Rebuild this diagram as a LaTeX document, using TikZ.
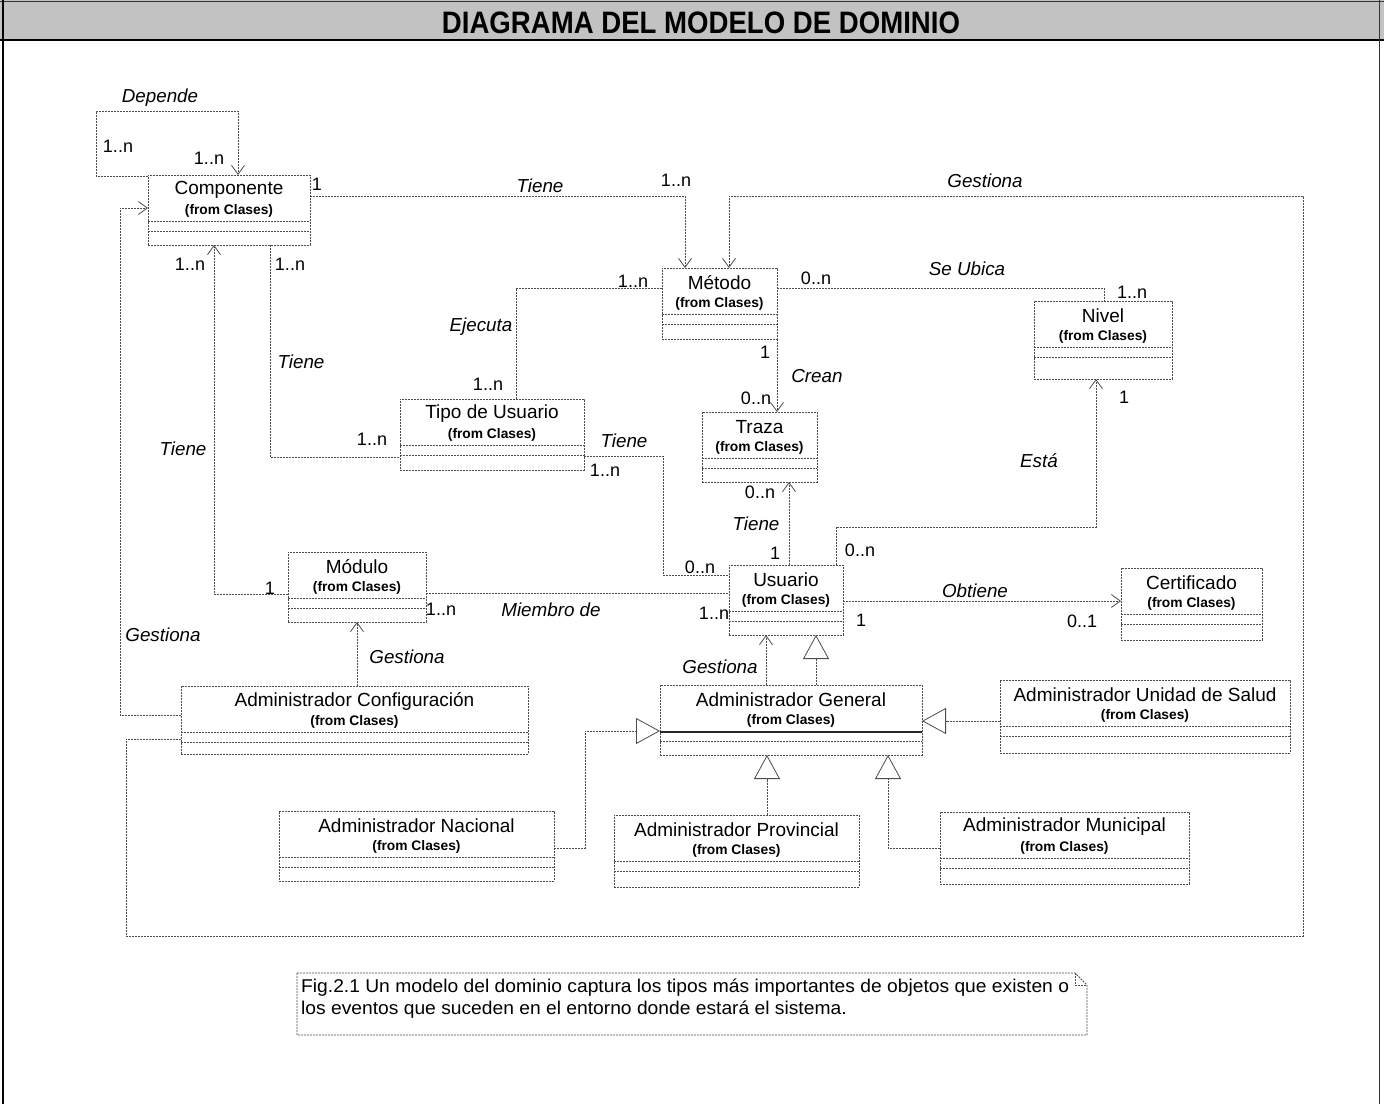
\documentclass[tikz,border=0pt]{standalone}
\usepackage{fontspec}
\setmainfont{Liberation Sans}
\usetikzlibrary{arrows.meta,calc}

\tikzset{
  conn/.style={draw=black!70, line width=0.9pt, dash pattern=on 2pt off 1pt},
  boxline/.style={draw=black!70, line width=0.9pt, dash pattern=on 2pt off 1pt},
  classbox/.style={boxline, fill=white, inner sep=0pt, outer sep=0pt},
  oarrow/.style={-{Straight Barb[length=9pt,width=13pt,line width=0.8pt]}},
  tri/.style={-{Triangle[open,length=24pt,width=26pt,fill=white,line width=0.8pt]}},
  clsname/.style={font=\fontsize{19}{21}\selectfont, inner sep=0pt},
  clsfrom/.style={font=\fontsize{13.8}{15}\selectfont\bfseries, inner sep=0pt},
  lbl/.style={font=\fontsize{18.8}{20}\selectfont\itshape, inner sep=0pt},
  mult/.style={font=\fontsize{18}{20}\selectfont, inner sep=0pt},
}

% class box: id, left, top, right, bottom, class name
\newcommand\umlclass[6]{%
  \node[classbox, anchor=north west, minimum width={#4-#2}, minimum height={#5-#3}] (#1) at (#2,#3) {};
  \node[clsname] at ([yshift=-15]#1.north) {#6};
  \node[clsfrom] at ([yshift=-35.5]#1.north) {(from Clases)};
  \draw[boxline] ([yshift=-46]#1.north west) -- ([yshift=-46]#1.north east);
  \draw[boxline] ([yshift=-56]#1.north west) -- ([yshift=-56]#1.north east);
}

\begin{document}
\begin{tikzpicture}[x=1pt,y=-1pt]
\useasboundingbox (0,0) rectangle (1384,1104);

% header band and frame
\fill[black!24] (0,0) rectangle (1384,40);
\draw[black!80, line width=1pt] (0,1) -- (1384,1);
\draw[black, line width=1.5pt] (0,40) -- (1384,40);
\draw[black, line width=2pt] (3,0) -- (3,1104);
\draw[black!80, line width=1pt] (1379,0) -- (1379,1104);
\node[font=\fontsize{31}{33}\selectfont\bfseries, inner sep=0pt] (title) at (701,23)
  {\scalebox{0.89}[1]{DIAGRAMA DEL MODELO DE DOMINIO}};

% classes
\umlclass{comp}{148}{175}{310}{245}{Componente}
\umlclass{metodo}{662}{268}{777}{339}{Método}
\umlclass{nivel}{1034}{301}{1172}{379}{Nivel}
\umlclass{tipo}{400}{399}{584}{470}{Tipo de Usuario}
\umlclass{traza}{702}{412}{817}{482}{Traza}
\umlclass{usuario}{729}{565}{843}{635}{Usuario}
\umlclass{cert}{1121}{568}{1262}{640}{Certificado}
\umlclass{modulo}{288}{552}{426}{622}{Módulo}
\umlclass{admconf}{181}{686}{528}{754}{Administrador Configuración}
\umlclass{admgen}{660}{685}{922}{755}{Administrador General}
\draw[black!85, line width=1.6pt] ([yshift=-47]admgen.north west) -- ([yshift=-47]admgen.north east);
\umlclass{admsalud}{1000}{680}{1290}{753}{Administrador Unidad de Salud}
\umlclass{admnac}{279}{811}{554}{881}{Administrador Nacional}
\umlclass{admprov}{614}{815}{859}{887}{Administrador Provincial}
\umlclass{admmun}{940}{812}{1189}{884}{Administrador Municipal}

% bend points
\coordinate (dA) at (96,176);
\coordinate (dB) at (96,111);
\coordinate (dC) at (238,111);
\coordinate (t1) at (685,196);
\coordinate (g1) at (126,739);
\coordinate (g2) at (126,936);
\coordinate (g3) at (1303,936);
\coordinate (g4) at (1303,196);
\coordinate (g5) at (729,196);
\coordinate (h1) at (120,715);
\coordinate (h2) at (120,208);
\coordinate (s1) at (1104,288);
\coordinate (e1) at (516,288);
\coordinate (k1) at (270,457);
\coordinate (u1) at (663,456);
\coordinate (u2) at (663,575);
\coordinate (v1) at (789,600);
\coordinate (w1) at (836,527);
\coordinate (w2) at (1096,527);
\coordinate (o1) at (0,601);
\coordinate (m1) at (0,593);
\coordinate (n1) at (214,594);
\coordinate (p1) at (357,0);
\coordinate (q1) at (766,0);
\coordinate (q2) at (816,0);
\coordinate (r1) at (0,721);
\coordinate (r2) at (585,848);
\coordinate (r3) at (585,731);
\coordinate (r4) at (767,0);
\coordinate (r5) at (888,848);

% associations
\draw[conn,oarrow] (comp.north west |- dA) -- (dA) -- (dB) -- (dC) -- (dC |- comp.north);
\draw[conn,oarrow] (comp.east |- t1) -- (t1) -- (t1 |- metodo.north);
\draw[conn,oarrow] (admconf.west |- g1) -- (g1) -- (g2) -- (g3) -- (g4) -- (g5) -- (g5 |- metodo.north);
\draw[conn,oarrow] (admconf.west |- h1) -- (h1) -- (h2) -- (comp.west |- h2);
\draw[conn] (metodo.east |- s1) -- (s1) -- (s1 |- nivel.north);
\draw[conn] (metodo.west |- e1) -- (e1) -- (e1 |- tipo.north);
\draw[conn] (k1 |- comp.south) -- (k1) -- (tipo.west |- k1);
\draw[conn] (tipo.east |- u1) -- (u1) -- (u2) -- (usuario.west |- u2);
\draw[conn,oarrow] (metodo.south east) -- (metodo.south east |- traza.north);
\draw[conn,oarrow] (v1 |- usuario.north) -- (v1 |- traza.south);
\draw[conn,oarrow] (w1 |- usuario.north) -- (w1) -- (w2) -- (w2 |- nivel.south);
\draw[conn,oarrow] (usuario.east |- o1) -- (cert.west |- o1);
\draw[conn] (modulo.east |- m1) -- (usuario.west |- m1);
\draw[conn,oarrow] (modulo.west |- n1) -- (n1) -- (n1 |- comp.south);
\draw[conn,oarrow] (p1 |- admconf.north) -- (p1 |- modulo.south);
\draw[conn,oarrow] (q1 |- admgen.north) -- (q1 |- usuario.south);

% generalizations
\draw[conn,tri] (q2 |- admgen.north) -- (q2 |- usuario.south);
\draw[conn,tri] (admsalud.west |- r1) -- (admgen.east |- r1);
\draw[conn,tri] (admnac.east |- r2) -- (r2) -- (r3) -- (admgen.west |- r3);
\draw[conn,tri] (r4 |- admprov.north) -- (r4 |- admgen.south);
\draw[conn,tri] (admmun.west |- r5) -- (r5) -- (r5 |- admgen.south);

% role names
\node[lbl] (l1) at (160,98) {Depende};
\node[lbl] (l2) at (540,186) {Tiene};
\node[lbl] (l3) at (985,181) {Gestiona};
\node[lbl] (l4) at (967,269) {Se Ubica};
\node[lbl] (l5) at (481,327) {Ejecuta};
\node[lbl] (l6) at (301,362) {Tiene};
\node[lbl] (l7) at (817,376) {Crean};
\node[lbl] (l8) at (183,449) {Tiene};
\node[lbl] (l9) at (624,441) {Tiene};
\node[lbl] (l10) at (1039,461) {Está};
\node[lbl] (l11) at (756,524) {Tiene};
\node[lbl] (l12) at (551,610) {Miembro de};
\node[lbl] (l13) at (975,591) {Obtiene};
\node[lbl] (l14) at (163,635) {Gestiona};
\node[lbl] (l15) at (407,657) {Gestiona};
\node[lbl] (l16) at (720,667) {Gestiona};

% multiplicities
\node[mult] (m01) at (118,146) {1..n};
\node[mult] (m02) at (209,158) {1..n};
\node[mult] (m03) at (317,184) {1};
\node[mult] (m04) at (676,180) {1..n};
\node[mult] (m05) at (190,264) {1..n};
\node[mult] (m06) at (290,264) {1..n};
\node[mult] (m07) at (633,281) {1..n};
\node[mult] (m08) at (816,278) {0..n};
\node[mult] (m09) at (1132,292) {1..n};
\node[mult] (m10) at (765,352) {1};
\node[mult] (m11) at (756,398) {0..n};
\node[mult] (m12) at (488,384) {1..n};
\node[mult] (m13) at (1124,397) {1};
\node[mult] (m14) at (372,439) {1..n};
\node[mult] (m15) at (605,470) {1..n};
\node[mult] (m16) at (760,492) {0..n};
\node[mult] (m17) at (775,553) {1};
\node[mult] (m18) at (860,550) {0..n};
\node[mult] (m19) at (700,567) {0..n};
\node[mult] (m20) at (270,588) {1};
\node[mult] (m21) at (441,609) {1..n};
\node[mult] (m22) at (714,613) {1..n};
\node[mult] (m23) at (861,620) {1};
\node[mult] (m24) at (1082,621) {0..1};

% note
\draw[boxline] (297,973) -- (1075,973) -- (1087,985) -- (1087,1035) -- (297,1035) -- cycle;
\draw[boxline] (1075,973) -- (1075,985) -- (1087,985);
\node[font=\fontsize{18.5}{21.5}\selectfont, anchor=north west, align=left, inner sep=0pt] (note) at (301,979)
  {\scalebox{1.04}[1]{Fig.2.1 Un modelo del dominio captura los tipos más importantes de objetos que existen o}\\
   \scalebox{1.04}[1]{los eventos que suceden en el entorno donde estará el sistema.}};
\end{tikzpicture}
\end{document}
